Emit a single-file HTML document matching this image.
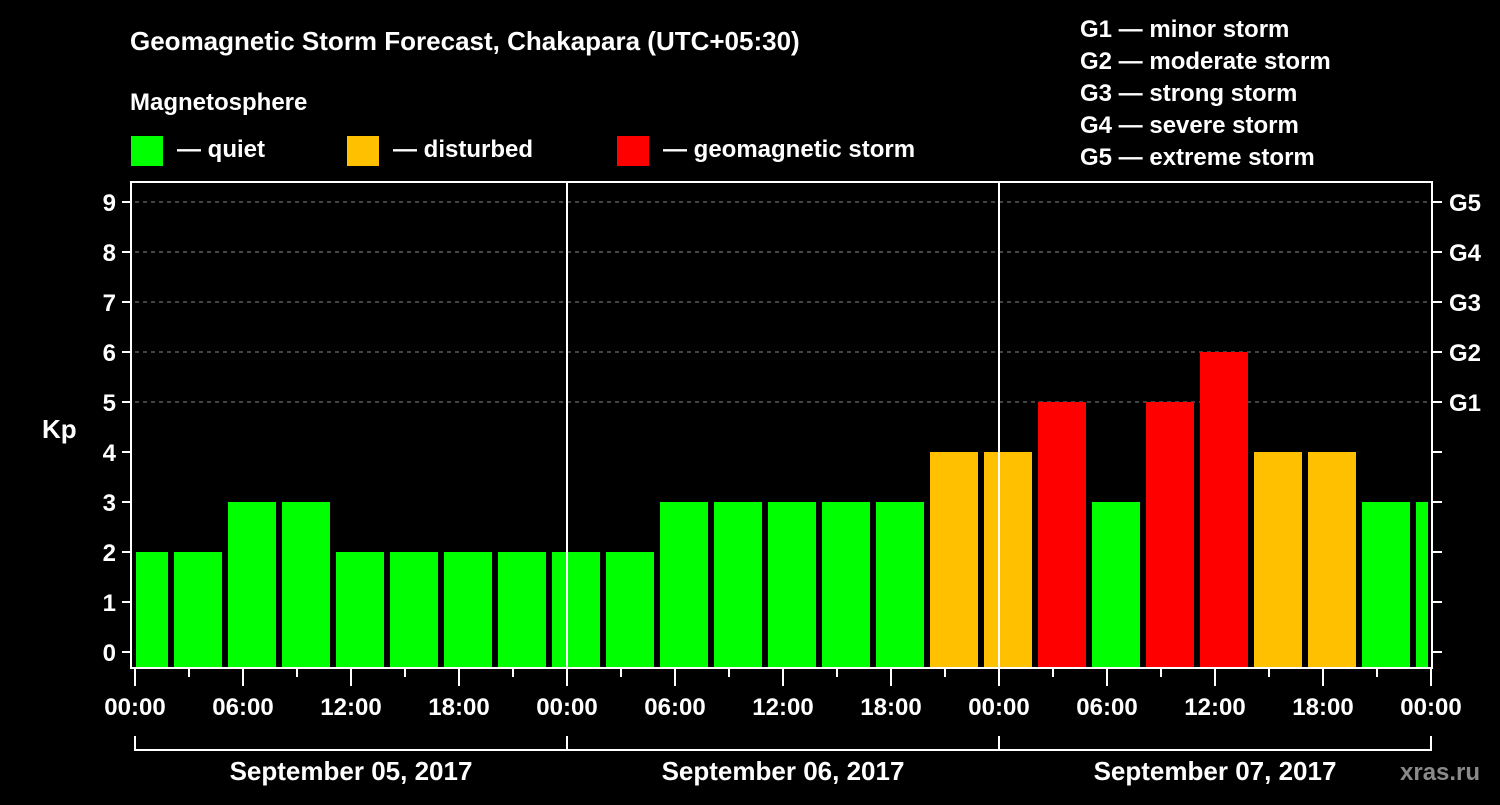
<!DOCTYPE html>
<html><head><meta charset="utf-8"><style>
body{margin:0;background:#000;}
svg text{font-family:"Liberation Sans",Arial,sans-serif;font-weight:bold;fill:#fff;}
</style></head><body>
<svg width="1500" height="800" viewBox="0 0 1500 800">
<rect width="1500" height="800" fill="#000"/>
<text x="130" y="50" font-size="26">Geomagnetic Storm Forecast, Chakapara (UTC+05:30)</text>
<text x="130" y="110" font-size="24">Magnetosphere</text>
<g>
<rect x="131" y="136" width="32" height="30" fill="#00ff00"/>
<text x="177" y="157" font-size="24">— quiet</text>
<rect x="347" y="136" width="32" height="30" fill="#ffc000"/>
<text x="393" y="157" font-size="24">— disturbed</text>
<rect x="617" y="136" width="32" height="30" fill="#ff0000"/>
<text x="663" y="157" font-size="24">— geomagnetic storm</text>
</g>
<g font-size="24">
<text x="1080" y="37">G1 — minor storm</text>
<text x="1080" y="69">G2 — moderate storm</text>
<text x="1080" y="101">G3 — strong storm</text>
<text x="1080" y="133">G4 — severe storm</text>
<text x="1080" y="165">G5 — extreme storm</text>
</g>
<text x="42" y="438" font-size="26">Kp</text>
<g id="grid"></g>
<g id="bars"></g>
<g id="axes"></g>
<text x="1400" y="780" font-size="24" fill="#888" style="fill:#8a8a8a">xras.ru</text>
</svg>
<script>
const kpValues=[2,2,3,3,2,2,2,2,2,2,3,3,3,3,3,4,4,5,3,5,6,4,4,3,3];
const yTicks=[0,1,2,3,4,5,6,7,8,9];
const gLabels=["G1","G2","G3","G4","G5"];
const xLabels=["00:00","06:00","12:00","18:00","00:00","06:00","12:00","18:00","00:00","06:00","12:00","18:00","00:00"];
const dayLabels=["September 05, 2017","September 06, 2017","September 07, 2017"];
const NS="http://www.w3.org/2000/svg";
const X0=135,X1=1431,PXH=18,firstBoundary=2;
const yS=v=>652-50*v;
const xS=h=>X0+h*PXH;
function mk(tag,attrs,parent,txt){const e=document.createElementNS(NS,tag);for(const k in attrs)e.setAttribute(k,attrs[k]);if(txt!==undefined)e.textContent=txt;parent.appendChild(e);return e;}
const grid=document.getElementById('grid'),bars=document.getElementById('bars'),axes=document.getElementById('axes');
for(let v=5;v<=9;v++){
 const l=mk('line',{x1:X0,x2:1432,y1:yS(v),y2:yS(v),stroke:'#888','stroke-dasharray':'4,4','stroke-width':1},grid);
 
 
}
kpValues.forEach((v,i)=>{
 const startH=i===0?0:firstBoundary+3*(i-1);
 const endH=Math.min(firstBoundary+3*i,72);
 let x1=xS(startH)+3, x2=Math.min(xS(endH)-3,1428);
 if(i===0)x1=136;
 const c=v>=5?'#ff0000':(v>=4?'#ffc000':'#00ff00');
 const r=mk('rect',{x:x1,y:yS(v),width:x2-x1,height:668-yS(v),fill:c},bars);
 
 
});
mk('rect',{x:131,y:182,width:1301,height:486,fill:'none',stroke:'#fff','stroke-width':2},axes);
[1,2].forEach(d=>{const l=mk('line',{x1:xS(24*d),x2:xS(24*d),y1:182,y2:668,stroke:'#fff','stroke-width':2},axes);
 
 });
yTicks.forEach(v=>{
 mk('line',{x1:122,x2:131,y1:yS(v),y2:yS(v),stroke:'#fff','stroke-width':2},axes);
 mk('line',{x1:1432,x2:1442,y1:yS(v),y2:yS(v),stroke:'#fff','stroke-width':2},axes);
 const t=mk('text',{x:116,y:yS(v)+9,'font-size':24,'text-anchor':'end'},axes,String(v));
 
 
});
gLabels.forEach((g,i)=>{const t=mk('text',{x:1449,y:yS(5+i)+9,'font-size':24},axes,g);
 
 });
for(let k=0;k<=24;k++){
 const x=xS(3*k),major=k%2===0;
 mk('line',{x1:x,x2:x,y1:669,y2:major?686:677,stroke:'#fff','stroke-width':2},axes);
}
xLabels.forEach((s,i)=>{const t=mk('text',{x:xS(6*i),y:715,'font-size':24,'text-anchor':'middle'},axes,s);
 
 });
mk('line',{x1:X0,x2:X1,y1:750,y2:750,stroke:'#fff','stroke-width':2},axes);
for(let d=0;d<=3;d++)mk('line',{x1:xS(24*d),x2:xS(24*d),y1:736,y2:751,stroke:'#fff','stroke-width':2},axes);
dayLabels.forEach((s,i)=>{const t=mk('text',{x:xS(24*i+12),y:780,'font-size':26,'text-anchor':'middle'},axes,s);
 
 });
</script>
</body></html>
